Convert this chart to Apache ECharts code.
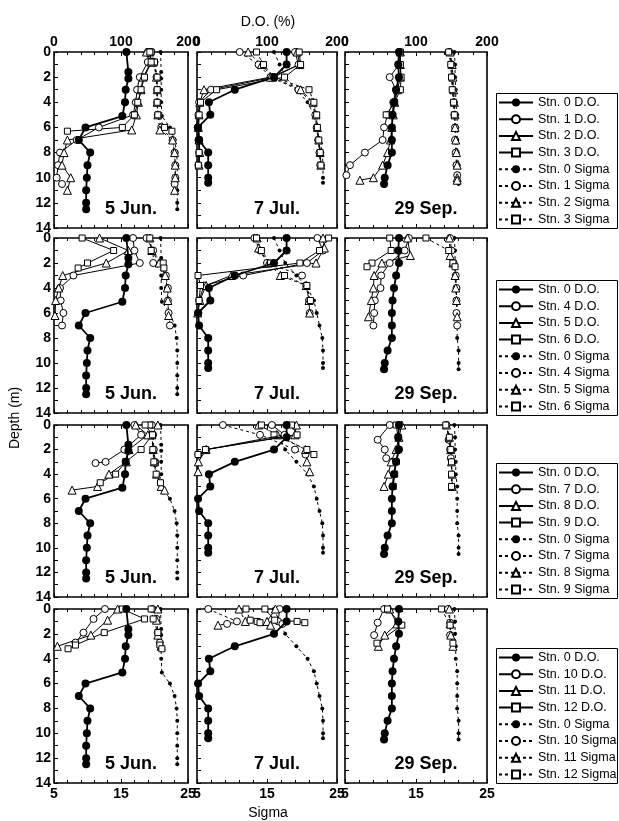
<!DOCTYPE html>
<html>
<head>
<meta charset="utf-8">
<script src="https://cdn.jsdelivr.net/npm/echarts@6/dist/echarts.min.js"></script>
<style>html,body{margin:0;padding:0;background:#fff}#c{width:619px;height:821px}</style>
</head>
<body>
<div id="c"></div>
<script>
// ---- Stn. 0 (reference station), one profile per survey date ----
const jun0Depth = [0, 1.6, 2.1, 3, 4, 5.1, 6, 7, 8, 9, 10, 11, 12, 12.5];
const jun0DO    = [108, 111, 111, 107, 106, 102, 47, 37, 54, 50, 49, 48, 48, 48];
const jun0Sigma = [20.9, 21.0, 21.0, 21.0, 21.0, 21.1, 22.3, 23.0, 23.3, 23.4, 23.4, 23.4, 23.4, 23.4];

const jul0Depth = [0, 1, 2, 3, 4, 5, 6, 7, 8, 9, 10, 10.4];
const jul0DO    = [128, 128, 110, 54, 17, 19, 1.5, 3, 16, 16, 16, 16];
const jul0Sigma = [16.0, 16.8, 17.6, 19.2, 20.8, 21.7, 22.1, 22.5, 22.9, 23.0, 23.0, 23.0];

const sep0Depth = [0, 1, 2, 3, 4, 5, 6, 7, 8, 9, 10, 10.5];
const sep0DO    = [76, 75, 76, 72, 69, 67, 66, 66, 66, 60, 56, 55];
const sep0Sigma = [20.4, 20.5, 20.5, 20.6, 20.6, 20.8, 20.8, 20.8, 20.8, 21.0, 21.0, 21.0];

// ---- Stations 1-3 ----
const jun1Depth = [0, 0.8, 2, 3, 4, 5, 6, 7, 8, 9, 10, 10.5];
const jun1DO    = [140, 140, 128, 124, 122, 118, 67, 34, 9, 6, 4, 12];
const jun1Sigma = [19.5, 20.0, 20.3, 20.4, 20.4, 20.5, 21.0, 22.7, 23.0, 23.1, 23.1, 23.0];
const jun2Depth = [0, 0.8, 2, 3, 4, 5, 6.2, 7, 8, 9, 10, 11];
const jun2DO    = [138, 145, 133, 130, 126, 123, 116, 20, 15, 12, 25, 20];
const jun2Sigma = [19.3, 19.8, 20.3, 20.4, 20.4, 20.5, 20.8, 22.7, 23.0, 23.1, 23.1, 23.0];
const jun3Depth = [0, 0.8, 2, 3, 4, 5, 6, 6.3];
const jun3DO    = [143, 145, 135, 130, 125, 120, 102, 20];
const jun3Sigma = [19.5, 20.0, 20.4, 20.4, 20.4, 20.5, 21.5, 22.6];

const jul1Depth = [0, 1, 2, 3, 4, 5, 6, 7, 8, 9];
const jul1DO    = [140, 145, 110, 20, 3, 2, 1, 2, 3, 2];
const jul1Sigma = [11.1, 13.8, 15.5, 19.5, 21.4, 21.9, 22.1, 22.3, 22.5, 22.6];
const jul2Depth = [0, 1, 2, 3, 4, 5, 6, 7, 8, 9];
const jul2DO    = [143, 147, 105, 10, 4, 3, 2, 3, 4, 3];
const jul2Sigma = [12.3, 14.2, 15.8, 19.8, 21.6, 22.0, 22.2, 22.4, 22.6, 22.7];
const jul3Depth = [0, 1, 2, 3, 4, 5, 6, 7, 8, 9];
const jul3DO    = [146, 148, 125, 28, 5, 3, 2, 3, 3, 2];
const jul3Sigma = [13.5, 14.5, 16.0, 21.0, 21.7, 22.1, 22.2, 22.4, 22.6, 22.7];

const sep1Depth = [0, 1, 2, 3, 4, 5, 6, 7, 8, 9, 9.8];
const sep1DO    = [77, 76, 63, 72, 68, 60, 55, 53, 28, 7, 2];
const sep1Sigma = [19.7, 20.0, 20.1, 20.2, 20.3, 20.4, 20.5, 20.5, 20.6, 20.7, 20.8];
const sep2Depth = [0, 1, 2, 3, 4, 5, 6, 7, 8, 9, 10, 10.2];
const sep2DO    = [78, 78, 78, 74, 70, 68, 66, 64, 60, 53, 40, 21];
const sep2Sigma = [19.8, 20.1, 20.2, 20.3, 20.4, 20.5, 20.5, 20.6, 20.7, 20.8, 20.8, 20.8];
const sep3Depth = [0, 1, 2, 3, 4, 5];
const sep3DO    = [78, 78, 79, 78, 70, 58];
const sep3Sigma = [19.6, 19.9, 20.0, 20.1, 20.3, 20.4];

// ---- Stations 4-6 ----
const jun4Depth = [0, 1, 2, 3, 4, 5, 6, 7];
const jun4DO    = [118, 120, 128, 29, 9, 10, 14, 12];
const jun4Sigma = [18.8, 19.8, 19.8, 21.7, 22.0, 22.0, 22.1, 22.3];
const jun5Depth = [0, 1, 2, 3, 4, 5, 6.2];
const jun5DO    = [68, 111, 78, 13, 7, 2.5, 1.5];
const jun5Sigma = [19.3, 19.6, 20.7, 21.6, 21.9, 22.0, 22.1];
const jun6Depth = [0, 1, 2, 2.4];
const jun6DO    = [42, 89, 50, 36];
const jun6Sigma = [19.3, 19.5, 21.3, 21.4];

const jul4Depth = [0, 1, 2, 3, 3.8, 5, 6];
const jul4DO    = [172, 180, 157, 66, 10, 3, 2];
const jul4Sigma = [13.2, 14.0, 15.0, 20.0, 20.6, 21.0, 21.1];
const jul5Depth = [0, 0.8, 2, 3, 3.8, 5, 6];
const jul5DO    = [180, 182, 170, 49, 13, 4, 1];
const jul5Sigma = [13.6, 13.8, 15.2, 16.9, 20.6, 21.0, 21.1];
const jul6Depth = [0, 1, 2, 3, 3.8, 5];
const jul6DO    = [188, 175, 147, 1.5, 5, 3];
const jul6Sigma = [13.5, 14.2, 15.5, 17.5, 20.7, 21.2];

const sep4Depth = [0, 1, 2, 3, 4, 5, 6, 7];
const sep4DO    = [90, 84, 63, 51, 50, 42, 41, 40];
const sep4Sigma = [19.8, 20.0, 20.3, 20.6, 20.7, 20.7, 20.7, 20.8];
const sep5Depth = [0, 1.4, 2, 3, 4, 5, 6.3];
const sep5DO    = [88, 92, 52, 41, 40, 37, 33];
const sep5Sigma = [19.7, 19.8, 20.2, 20.5, 20.6, 20.7, 20.8];
const sep6Depth = [0, 1, 2, 2.3];
const sep6DO    = [63, 65, 38, 31];
const sep6Sigma = [16.4, 19.6, 20.2, 20.5];

// ---- Stations 7-9 ----
const jun7Depth = [0, 0.8, 2, 3, 3.1];
const jun7DO    = [120, 130, 105, 77, 62];
const jun7Sigma = [19.6, 19.8, 19.9, 20.1, 20.1];
const jun8Depth = [0, 0.8, 2, 3, 4, 5, 5.3];
const jun8DO    = [122, 140, 112, 108, 82, 65, 27];
const jun8Sigma = [20.5, 19.6, 19.8, 20.0, 20.3, 21.0, 21.5];
const jun9Depth = [0, 0.8, 2, 3, 4, 4.7];
const jun9DO    = [136, 147, 130, 107, 92, 69];
const jun9Sigma = [19.3, 19.6, 19.75, 19.9, 20.25, 20.9];

const jul7Depth = [0, 0.8, 2, 2.4];
const jul7DO    = [107, 125, 13, 2];
const jul7Sigma = [8.7, 14.0, 19.0, 20.5];
const jul8Depth = [0, 0.8, 2, 3, 3.8];
const jul8DO    = [142, 140, 13, 2, 1.5];
const jul8Sigma = [13.8, 16.5, 20.5, 20.7, 21.1];
const jul9Depth = [0, 0.8, 2, 2.4];
const jul9DO    = [135, 143, 12, 1.4];
const jul9Sigma = [14.2, 16.0, 20.7, 21.7];

const sep7Depth = [0, 1.2, 2, 2.7];
const sep7DO    = [63, 46, 56, 58];
const sep7Sigma = [19.3, 19.6, 19.8, 19.9];
const sep8Depth = [0, 1, 2, 3, 4, 5];
const sep8DO    = [80, 76, 72, 65, 61, 55];
const sep8Sigma = [19.3, 19.7, 19.9, 20.0, 20.1, 20.1];
const sep9Depth = [0, 1, 2, 3, 4, 5];
const sep9DO    = [72, 75, 75, 72, 70, 68];
const sep9Sigma = [19.2, 19.7, 19.9, 20.0, 20.0, 20.0];

// ---- Stations 10-12 ----
const jun10Depth = [0, 0.8, 1.9, 2.7];
const jun10DO    = [76, 59, 44, 32];
const jun10Sigma = [19.7, 20.3, 20.5, 20.8];
const jun11Depth = [0, 0.9, 2.1, 3.0];
const jun11DO    = [95, 80, 55, 5];
const jun11Sigma = [20.5, 20.3, 20.5, 21.0];
const jun12Depth = [0, 0.8, 1.9, 2.9, 3.2];
const jun12DO    = [102, 135, 75, 32, 21];
const jun12Sigma = [19.5, 19.8, 20.5, 20.8, 21.1];

const jul10Depth = [0, 1.0, 1.2];
const jul10DO    = [118, 116, 122];
const jul10Sigma = [6.6, 10.7, 9.3];
const jul11Depth = [0, 1.0, 1.3];
const jul11DO    = [112, 100, 105];
const jul11Sigma = [11.0, 11.9, 8.0];
const jul12Depth = [0, 0.9, 1.0, 1.1];
const jul12DO    = [97, 111, 143, 154];
const jul12Sigma = [12.0, 12.6, 13.6, 14.0];

const sep10Depth = [0, 1.1, 2.1];
const sep10DO    = [55, 46, 41];
const sep10Sigma = [19.5, 19.8, 19.8];
const sep11Depth = [0, 1.2, 2.1, 3.0];
const sep11DO    = [63, 73, 56, 47];
const sep11Sigma = [19.7, 19.8, 19.9, 20.2];
const sep12Depth = [0, 1.3, 2.75];
const sep12DO    = [60, 80, 45];
const sep12Sigma = [18.6, 19.8, 20.2];

// ---- labels and ticks ----
const dateLabels  = ['5 Jun.', '7 Jul.', '29 Sep.'];
const rowStations = [[1, 2, 3], [4, 5, 6], [7, 8, 9], [10, 11, 12]];

// ---- layout ----
const colLeft  = [54, 197, 345];
const colWidth = [134, 140, 142];
const rowTop    = [52, 238, 425, 609];
const rowHeight = [176, 175, 172, 174];
const legendTop = [93, 280, 463, 648];

const profiles = {
  jun: {0: [jun0Depth, jun0DO, jun0Sigma], 1: [jun1Depth, jun1DO, jun1Sigma], 2: [jun2Depth, jun2DO, jun2Sigma], 3: [jun3Depth, jun3DO, jun3Sigma],
        4: [jun4Depth, jun4DO, jun4Sigma], 5: [jun5Depth, jun5DO, jun5Sigma], 6: [jun6Depth, jun6DO, jun6Sigma],
        7: [jun7Depth, jun7DO, jun7Sigma], 8: [jun8Depth, jun8DO, jun8Sigma], 9: [jun9Depth, jun9DO, jun9Sigma],
        10: [jun10Depth, jun10DO, jun10Sigma], 11: [jun11Depth, jun11DO, jun11Sigma], 12: [jun12Depth, jun12DO, jun12Sigma]},
  jul: {0: [jul0Depth, jul0DO, jul0Sigma], 1: [jul1Depth, jul1DO, jul1Sigma], 2: [jul2Depth, jul2DO, jul2Sigma], 3: [jul3Depth, jul3DO, jul3Sigma],
        4: [jul4Depth, jul4DO, jul4Sigma], 5: [jul5Depth, jul5DO, jul5Sigma], 6: [jul6Depth, jul6DO, jul6Sigma],
        7: [jul7Depth, jul7DO, jul7Sigma], 8: [jul8Depth, jul8DO, jul8Sigma], 9: [jul9Depth, jul9DO, jul9Sigma],
        10: [jul10Depth, jul10DO, jul10Sigma], 11: [jul11Depth, jul11DO, jul11Sigma], 12: [jul12Depth, jul12DO, jul12Sigma]},
  sep: {0: [sep0Depth, sep0DO, sep0Sigma], 1: [sep1Depth, sep1DO, sep1Sigma], 2: [sep2Depth, sep2DO, sep2Sigma], 3: [sep3Depth, sep3DO, sep3Sigma],
        4: [sep4Depth, sep4DO, sep4Sigma], 5: [sep5Depth, sep5DO, sep5Sigma], 6: [sep6Depth, sep6DO, sep6Sigma],
        7: [sep7Depth, sep7DO, sep7Sigma], 8: [sep8Depth, sep8DO, sep8Sigma], 9: [sep9Depth, sep9DO, sep9Sigma],
        10: [sep10Depth, sep10DO, sep10Sigma], 11: [sep11Depth, sep11DO, sep11Sigma], 12: [sep12Depth, sep12DO, sep12Sigma]}
};
const dateKeys = ['jun', 'jul', 'sep'];

const FONT = 'Liberation Sans, Arial, sans-serif';
const BLACK = '#000';

// marker style per position in a row: Stn. 0, then three open-symbol stations
const markerShapes = ['circle', 'circle', 'triangle', 'rect'];
const markerSizes  = [8, 7, 8, 6];

function pairs(xs, ys) { return xs.map((x, i) => [x, ys[i]]); }

const grids = [], xAxes = [], yAxes = [], series = [], legends = [], graphics = [];

for (let r = 0; r < 4; r++) {
  for (let c = 0; c < 3; c++) {
    const gi = r * 3 + c;
    grids.push({
      left: colLeft[c], top: rowTop[r], width: colWidth[c], height: rowHeight[r],
      show: true, borderColor: BLACK, borderWidth: 1.6, backgroundColor: 'transparent',
      containLabel: false, outerBoundsMode: 'none'
    });
    // D.O. axis along the top
    xAxes.push({
      type: 'value', gridIndex: gi, position: 'top', min: 0, max: 200, interval: 100,
      axisLine: {show: false},
      axisTick: {show: true, inside: true, length: 4, lineStyle: {color: BLACK, width: 1}},
      minorTick: {show: true, splitNumber: 5, length: 3, lineStyle: {color: BLACK, width: 1}},
      splitLine: {show: false},
      axisLabel: {show: r === 0, margin: 3, color: BLACK, fontFamily: FONT, fontSize: 14, fontWeight: 'bold',
                  showMinLabel: true, showMaxLabel: true, hideOverlap: false}
    });
    // Sigma axis along the bottom
    xAxes.push({
      type: 'value', gridIndex: gi, position: 'bottom', min: 5, max: 25, interval: 10,
      axisLine: {show: false},
      axisTick: {show: true, inside: true, length: 4, lineStyle: {color: BLACK, width: 1}},
      minorTick: {show: true, splitNumber: 5, length: 3, lineStyle: {color: BLACK, width: 1}},
      splitLine: {show: false},
      axisLabel: {show: r === 3, margin: 4, color: BLACK, fontFamily: FONT, fontSize: 14, fontWeight: 'bold',
                  showMinLabel: true, showMaxLabel: true, hideOverlap: false}
    });
    yAxes.push({
      type: 'value', gridIndex: gi, inverse: true, min: 0, max: 14, interval: 2,
      axisLine: {show: false},
      axisTick: {show: true, inside: true, length: 4, lineStyle: {color: BLACK, width: 1}},
      minorTick: {show: true, splitNumber: 2, length: 4, lineStyle: {color: BLACK, width: 1}},
      splitLine: {show: false},
      axisLabel: {show: c === 0, margin: 3, color: BLACK, fontFamily: FONT, fontSize: 14, fontWeight: 'bold',
                  showMinLabel: true, showMaxLabel: true, hideOverlap: false}
    });

    const stations = [0].concat(rowStations[r]);
    const prof = profiles[dateKeys[c]];
    // Sigma profiles (dashed) first so D.O. lines sit on top
    stations.forEach((stn, k) => {
      const [depth, , sigma] = prof[stn];
      const filled = k === 0;
      series.push({
        type: 'line', name: 'Stn. ' + stn + ' Sigma', xAxisIndex: gi * 2 + 1, yAxisIndex: gi,
        data: pairs(sigma, depth), animation: false, silent: true, z: 2,
        symbol: markerShapes[k], symbolSize: filled ? 4 : markerSizes[k],
        lineStyle: {color: BLACK, width: 1, type: [3, 3]},
        itemStyle: filled ? {color: BLACK, borderWidth: 0} : {color: '#fff', borderColor: BLACK, borderWidth: 1}
      });
    });
    stations.forEach((stn, k) => {
      const [depth, dox] = prof[stn];
      const filled = k === 0;
      series.push({
        type: 'line', name: 'Stn. ' + stn + ' D.O.', xAxisIndex: gi * 2, yAxisIndex: gi,
        data: pairs(dox, depth), animation: false, silent: true, z: filled ? 4 : 3,
        symbol: markerShapes[k], symbolSize: markerSizes[k],
        lineStyle: {color: BLACK, width: filled ? 1.8 : 1, type: 'solid'},
        itemStyle: filled ? {color: BLACK, borderWidth: 0} : {color: '#fff', borderColor: BLACK, borderWidth: 1}
      });
    });

    // survey date inside the panel
    graphics.push({
      type: 'text', x: colLeft[c] + colWidth[c] / 2 + 10, y: rowTop[r] + rowHeight[r] - 19, z: 10,
      style: {text: dateLabels[c], fill: BLACK, font: 'bold 18px ' + FONT, textAlign: 'center', textVerticalAlign: 'middle'}
    });
  }

  // legend for this row of panels
  const names = [0].concat(rowStations[r]).map(s => 'Stn. ' + s + ' D.O.')
    .concat([0].concat(rowStations[r]).map(s => 'Stn. ' + s + ' Sigma'));
  graphics.push({
    type: 'rect', shape: {x: 496.5, y: legendTop[r] + 0.5, width: 121, height: 135}, z: 0,
    style: {fill: '#fff', stroke: BLACK, lineWidth: 1}
  });
  legends.push({
    orient: 'vertical', left: 498, top: legendTop[r] + 3, padding: 0,
    itemWidth: 34, itemHeight: 10, itemGap: 3.7, selectedMode: false,
    textStyle: {color: BLACK, fontFamily: FONT, fontSize: 12.5},
    data: names
  });
}

// axis titles
graphics.push({type: 'text', x: 268, y: 22, z: 10,
  style: {text: 'D.O. (%)', fill: BLACK, font: '14px ' + FONT, textAlign: 'center', textVerticalAlign: 'middle'}});
graphics.push({type: 'text', x: 268, y: 813, z: 10,
  style: {text: 'Sigma', fill: BLACK, font: '14px ' + FONT, textAlign: 'center', textVerticalAlign: 'middle'}});
graphics.push({type: 'text', x: 15, y: 418, rotation: Math.PI / 2, z: 10,
  style: {text: 'Depth (m)', fill: BLACK, font: '14px ' + FONT, textAlign: 'center', textVerticalAlign: 'middle'}});

const chart = echarts.init(document.getElementById('c'), null, {renderer: 'canvas'});
chart.setOption({
  backgroundColor: '#fff',
  animation: false,
  grid: grids, xAxis: xAxes, yAxis: yAxes, series: series,
  legend: legends, graphic: graphics
});
</script>
</body>
</html>
